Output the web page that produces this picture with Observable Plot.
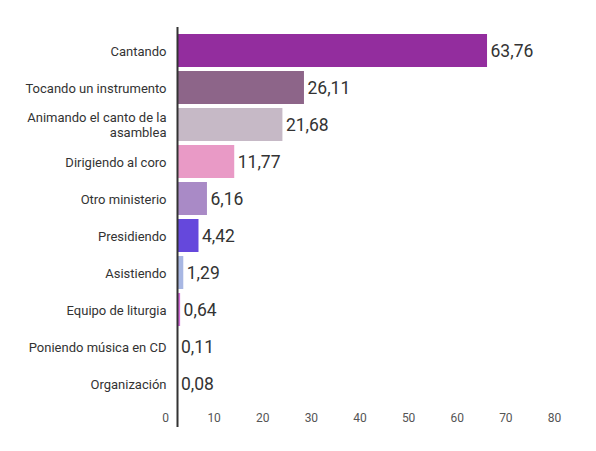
<!DOCTYPE html>
<html>
<head>
<meta charset="utf-8">
<script src="https://cdn.jsdelivr.net/npm/d3@7"></script>
<script src="https://cdn.jsdelivr.net/npm/@observablehq/plot@0.6"></script>
<style>
  html, body { margin: 0; padding: 0; background: #fff; }
  #chart { width: 596px; height: 451px; }
  svg { font-family: Roboto, "Noto Sans", sans-serif; }
</style>
</head>
<body>
<div id="chart"></div>
<script>
const categories = [
  "Cantando",
  "Tocando un instrumento",
  "Animando el canto de la asamblea",
  "Dirigiendo al coro",
  "Otro ministerio",
  "Presidiendo",
  "Asistiendo",
  "Equipo de liturgia",
  "Poniendo música en CD",
  "Organización"
];
const values = [63.76, 26.11, 21.68, 11.77, 6.16, 4.42, 1.29, 0.64, 0.11, 0.08];
const colors = ["#932d9e", "#8d6589", "#c6b9c6", "#e99ac6", "#a98ac6", "#6548dc", "#a8b7e3", "#d36ad8", "#b9a8e0", "#cccccc"];
const xTicks = [0, 10, 20, 30, 40, 50, 60, 70, 80];
const labelLines = {"Animando el canto de la asamblea": "Animando el canto de la\nasamblea"};

const data = categories.map((c, i) => ({category: c, value: values[i], color: colors[i]}));
const fmt = v => v.toFixed(2).replace(".", ",");

const chart = Plot.plot({
  width: 596,
  height: 451,
  marginLeft: 177,
  marginRight: 30,
  marginTop: 25.5,
  marginBottom: 43,
  style: {fontFamily: "Roboto, 'Noto Sans', sans-serif", background: "#fff"},
  x: {domain: [0, 80], axis: null},
  y: {domain: categories, padding: 0.12, axis: null},
  marks: [
    Plot.barX(data, {y: "category", x: "value", fill: "color"}),
    Plot.ruleX([0], {stroke: "#333", strokeWidth: 2, insetTop: 1.5, insetBottom: -19}),
    Plot.axisY({
      tickSize: 0,
      tickPadding: 11,
      fontSize: 13,
      lineHeight: 1.1,
      fill: "#333",
      tickFormat: d => labelLines[d] ?? d,
      label: null
    }),
    Plot.axisX({
      ticks: xTicks,
      tickSize: 0,
      tickPadding: 5,
      fontSize: 12,
      fill: "#555",
      dx: -12,
      tickFormat: d => String(d),
      label: null
    }),
    Plot.text(data, {
      y: "category",
      x: "value",
      text: d => fmt(d.value),
      textAnchor: "start",
      dx: 3,
      fontSize: 17.5,
      fill: "#333"
    })
  ]
});
document.getElementById("chart").appendChild(chart);
</script>
</body>
</html>
